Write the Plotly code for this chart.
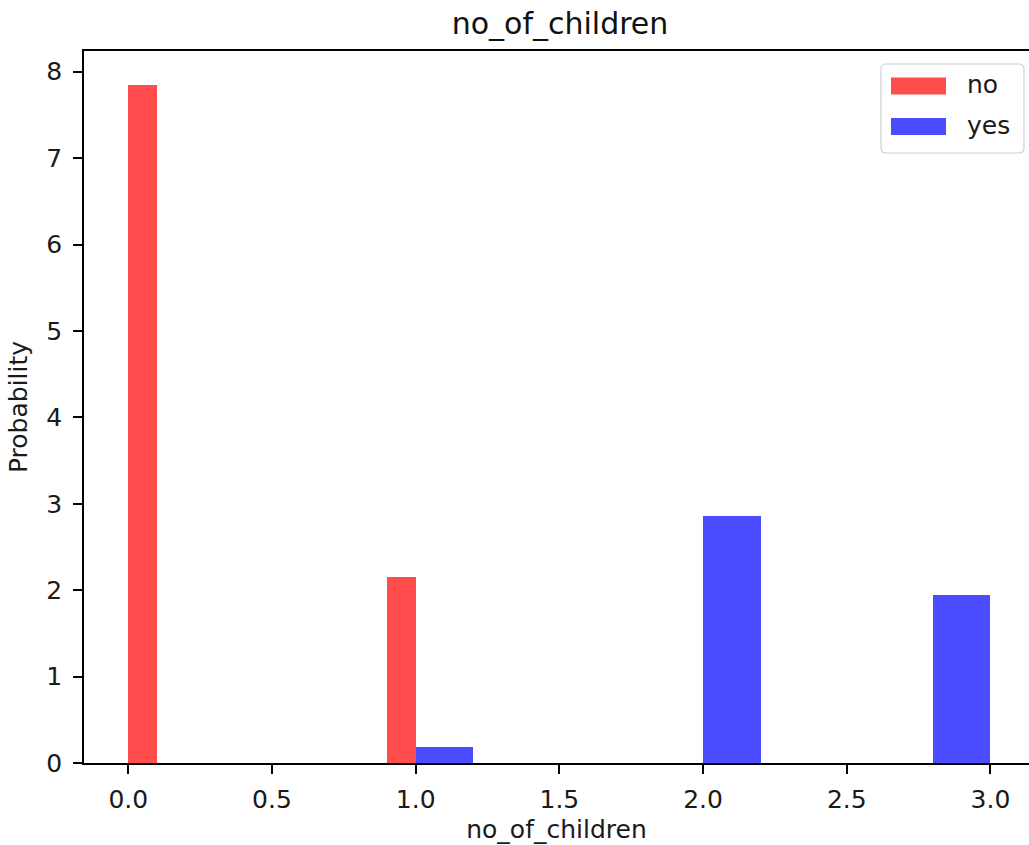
import plotly.graph_objects as go

# Histogram bins (left edges, widths) and density heights
no_left = [0.0, 0.9]
no_width = [0.1, 0.1]
no_density = [7.85, 2.15]

yes_left = [1.0, 2.0, 2.8]
yes_width = [0.2, 0.2, 0.2]
yes_density = [0.19, 2.86, 1.95]

x_ticks = [0.0, 0.5, 1.0, 1.5, 2.0, 2.5, 3.0]
y_ticks = [0, 1, 2, 3, 4, 5, 6, 7, 8]

series_names = ["no", "yes"]
series_colors = ["rgba(255,0,0,0.7)", "rgba(0,0,255,0.7)"]

FONT = "DejaVu Sans"
W, H = 1029, 845
L, R, T, B = 84, 0, 51, 82
PW, PH = W - L - R, H - T - B


def px(xp):
    return (xp - L) / PW


def py(yp):
    return (H - B - yp) / PH


fig = go.Figure()
fig.add_trace(go.Bar(x=no_left, y=no_density, width=no_width, offset=0,
                     name=series_names[0], showlegend=False,
                     marker=dict(color=series_colors[0], line=dict(width=0))))
fig.add_trace(go.Bar(x=yes_left, y=yes_density, width=yes_width, offset=0,
                     name=series_names[1], showlegend=False,
                     marker=dict(color=series_colors[1], line=dict(width=0))))

# legend drawn matplotlib-style (wide patches, rounded frame)
x0, x1, y0, y1, r = px(881), px(1024), py(64), py(153), 5
rx, ry = r / PW, r / PH
frame = (f"M{x0+rx},{y0} L{x1-rx},{y0} Q{x1},{y0} {x1},{y0-ry} "
         f"L{x1},{y1+ry} Q{x1},{y1} {x1-rx},{y1} L{x0+rx},{y1} "
         f"Q{x0},{y1} {x0},{y1+ry} L{x0},{y0-ry} Q{x0},{y0} {x0+rx},{y0} Z")
shapes = [dict(type="path", xref="paper", yref="paper", path=frame,
               line=dict(color="#d0d0d0", width=1.2), fillcolor="rgba(255,255,255,0.8)",
               layer="above")]
annotations = []
for i, (nm, col) in enumerate(zip(series_names, series_colors)):
    cy = 86 + i * 40.5
    shapes.append(dict(type="rect", xref="paper", yref="paper",
                       x0=px(891), x1=px(946), y0=py(cy - 8.5), y1=py(cy + 8.5),
                       fillcolor=col, line=dict(width=0), layer="above"))
    annotations.append(dict(text=nm, xref="paper", yref="paper", x=px(965), y=py(cy - 1),
                            xanchor="left", yanchor="middle", showarrow=False,
                            font=dict(size=25, family=FONT, color="#1a1a1a")))

fig.update_layout(
    width=W, height=H,
    margin=dict(l=L, r=R, t=T, b=B, autoexpand=False),
    plot_bgcolor="white", paper_bgcolor="white",
    barmode="overlay", bargap=0,
    font=dict(family=FONT, size=25, color="#1a1a1a"),
    title=dict(text="no_of_children", x=560 / W, xanchor="center",
               y=1 - 23 / H, yanchor="middle", yref="container",
               font=dict(size=30, family=FONT, color="#111")),
    shapes=shapes, annotations=annotations,
    showlegend=False,
)
fig.update_xaxes(range=[-0.154, 3.134], tickvals=x_ticks,
                 ticktext=[f"{v:.1f}" for v in x_ticks],
                 showgrid=False, zeroline=False,
                 showline=True, linecolor="black", linewidth=1.5, mirror=True,
                 ticks="outside", ticklen=9, tickwidth=1.5, tickcolor="black",
                 ticklabelstandoff=4,
                 title=dict(text="no_of_children", font=dict(size=25, family=FONT), standoff=8))
fig.update_yaxes(range=[0, 8.24], tickvals=y_ticks,
                 showgrid=False, zeroline=False,
                 showline=True, linecolor="black", linewidth=1.5, mirror=False,
                 ticks="outside", ticklen=9, tickwidth=1.5, tickcolor="black",
                 ticklabelstandoff=6,
                 title=dict(text="Probability", font=dict(size=25, family=FONT), standoff=12))

fig.write_html("out.html", config={"displayModeBar": False},
               post_script="document.body.style.margin='0px';")
